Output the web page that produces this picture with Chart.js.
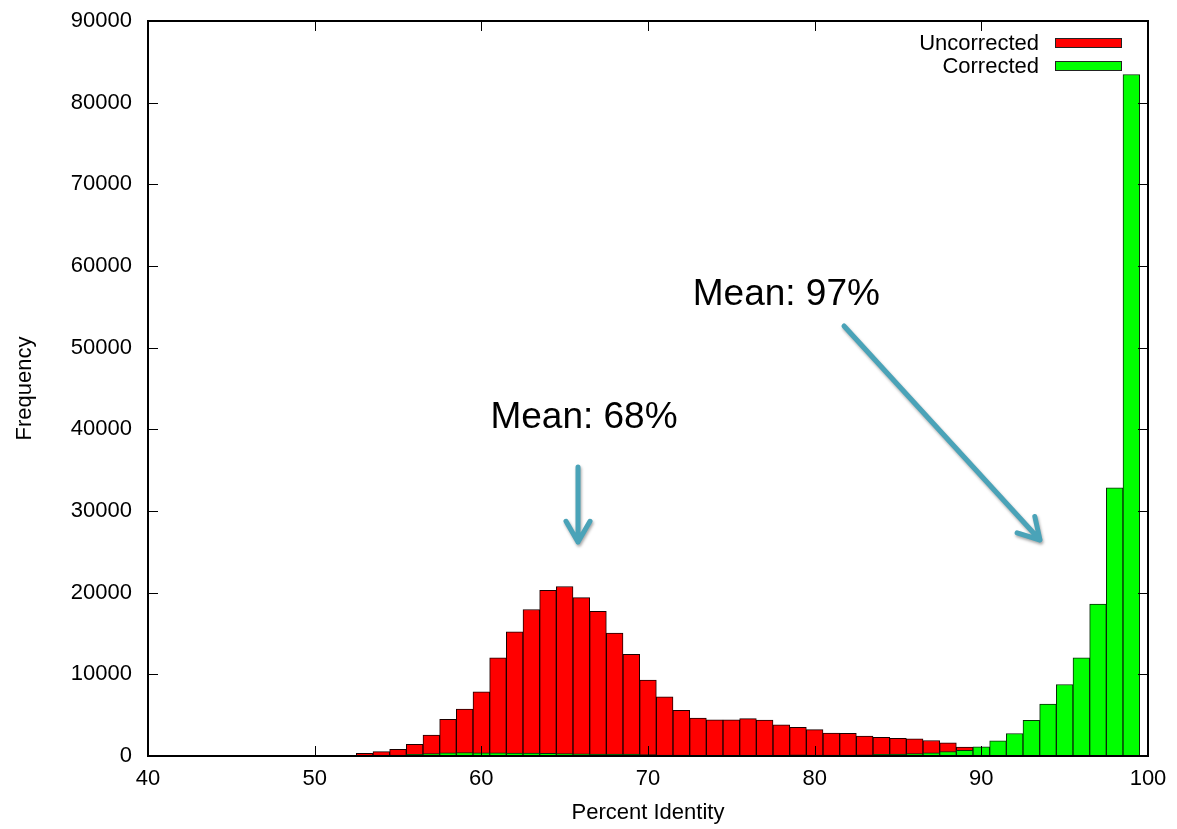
<!DOCTYPE html>
<html>
<head>
<meta charset="utf-8">
<title>Percent Identity histogram</title>
<script src="https://cdn.jsdelivr.net/npm/chart.js@4.4.1/dist/chart.umd.min.js"></script>
<style>
  body { margin: 0; background: #fff; }
  #wrap { width: 1177px; height: 829px; }
</style>
</head>
<body>
<div id="wrap"><canvas id="histChart" width="1177" height="829"></canvas></div>
<script>
// bin centres (percent identity)
const bins = [53, 54, 55, 56, 57, 58, 59, 60, 61, 62, 63, 64, 65, 66, 67, 68, 69, 70,
  71, 72, 73, 74, 75, 76, 77, 78, 79, 80, 81, 82, 83, 84, 85, 86, 87, 88, 89, 90,
  91, 92, 93, 94, 95, 96, 97, 98, 99];

// frequencies
const uncorrected = [330, 530, 815, 1430, 2570, 4480, 5750, 7870, 12030, 15210, 17940, 20300,
  20750, 19400, 17730, 15040, 12440, 9290, 7250, 5590, 4650, 4440, 4440, 4570, 4400, 3830,
  3510, 3220, 2810, 2770, 2450, 2280, 2160, 2100, 1900, 1600, 1100, 800, 600, 450, 350,
  280, 220, 170, 120, 80, 40];
const corrected = [60, 90, 120, 200, 285, 380, 430, 400, 400, 370, 360, 330, 290, 280, 220,
  240, 230, 170, 120, 100, 90, 90, 90, 90, 90, 90, 140, 110, 110, 120, 150, 200, 250, 290,
  400, 550, 700, 1110, 1850, 2750, 4370, 6350, 8750, 12030, 18600, 32850, 83450];

const seriesNames = ['Uncorrected', 'Corrected'];
const xTicks = [40, 50, 60, 70, 80, 90, 100];
const yTicks = [0, 10000, 20000, 30000, 40000, 50000, 60000, 70000, 80000, 90000];

// the two "Mean" call-outs
const meanLabels = ['Mean: 68%', 'Mean: 97%'];

const FONT = '"Liberation Sans", Arial, Helvetica, sans-serif';
const ARROW = '#4aa3b8';

// text and arrow anchors in data units
const callouts = [
  { text: meanLabels[0], tx: 66.16, ty: 41390, from: [65.8, 35390], to: [65.8, 26200] },
  { text: meanLabels[1], tx: 78.3, ty: 56450, from: [81.76, 52650], to: [93.52, 26450] }
];

function drawArrow(ctx, x1, y1, x2, y2) {
  const ang = Math.atan2(y2 - y1, x2 - x1);
  const head = 24, spread = Math.PI / 6;
  ctx.beginPath();
  ctx.moveTo(x1, y1);
  ctx.lineTo(x2, y2);
  ctx.moveTo(x2 - head * Math.cos(ang - spread), y2 - head * Math.sin(ang - spread));
  ctx.lineTo(x2, y2);
  ctx.lineTo(x2 - head * Math.cos(ang + spread), y2 - head * Math.sin(ang + spread));
  ctx.stroke();
}

// gnuplot style frame, inward ticks, legend and arrows
const framePlugin = {
  id: 'frame',
  afterDatasetsDraw(chart) {
    const { ctx, chartArea: a, scales: { x, y } } = chart;
    ctx.save();
    ctx.strokeStyle = '#000';
    ctx.lineWidth = 1;
    ctx.beginPath();
    x.ticks.forEach(t => {
      const px = Math.round(x.getPixelForValue(t.value)) + 0.5;
      ctx.moveTo(px, a.bottom); ctx.lineTo(px, a.bottom - 10);
      ctx.moveTo(px, a.top); ctx.lineTo(px, a.top + 10);
    });
    y.ticks.forEach(t => {
      const py = Math.round(y.getPixelForValue(t.value)) + 0.5;
      ctx.moveTo(a.left, py); ctx.lineTo(a.left + 10, py);
      ctx.moveTo(a.right, py); ctx.lineTo(a.right - 10, py);
    });
    ctx.stroke();
    ctx.lineWidth = 2;
    ctx.strokeRect(a.left, a.top, a.right - a.left, a.bottom - a.top);

    // legend, text right aligned with a swatch on the right
    ctx.font = '22px ' + FONT;
    ctx.textAlign = 'right';
    ctx.textBaseline = 'middle';
    chart.data.datasets.forEach((ds, i) => {
      const cy = a.top + 22 + i * 23;
      ctx.fillStyle = '#000';
      ctx.fillText(ds.label, a.right - 109, cy + 1);
      ctx.fillStyle = ds.backgroundColor;
      ctx.fillRect(a.right - 93, cy - 5, 67, 10);
      ctx.lineWidth = 1;
      ctx.strokeStyle = '#222';
      ctx.strokeRect(a.right - 92.5, cy - 4.5, 66, 9);
    });

    // mean call-outs
    ctx.font = '37px ' + FONT;
    ctx.textAlign = 'center';
    ctx.fillStyle = '#000';
    callouts.forEach(c => {
      ctx.fillText(c.text, x.getPixelForValue(c.tx), y.getPixelForValue(c.ty));
    });
    ctx.strokeStyle = ARROW;
    ctx.lineWidth = 5;
    ctx.lineCap = 'round';
    ctx.lineJoin = 'round';
    ctx.shadowColor = 'rgba(0,0,0,0.35)';
    ctx.shadowBlur = 3;
    ctx.shadowOffsetX = 1;
    ctx.shadowOffsetY = 2;
    callouts.forEach(c => {
      drawArrow(ctx,
        x.getPixelForValue(c.from[0]), y.getPixelForValue(c.from[1]),
        x.getPixelForValue(c.to[0]), y.getPixelForValue(c.to[1]));
    });
    ctx.restore();
  }
};

Chart.defaults.color = '#000';
Chart.defaults.font.family = FONT;
Chart.defaults.font.size = 22;

const ctx = document.getElementById('histChart').getContext('2d');
new Chart(ctx, {
  type: 'bar',
  data: {
    datasets: [{
      label: seriesNames[0],
      data: bins.map((b, i) => ({ x: b, y: uncorrected[i] })),
      backgroundColor: '#ff0000',
      borderColor: '#1a0000',
      borderWidth: 1,
      order: 2
    }, {
      label: seriesNames[1],
      data: bins.map((b, i) => ({ x: b, y: corrected[i] })),
      backgroundColor: '#00ff00',
      borderColor: '#0a2a0a',
      borderWidth: 1,
      order: 1
    }]
  },
  options: {
    responsive: false,
    animation: false,
    grouped: false,
    barPercentage: 1,
    categoryPercentage: 1,
    layout: { padding: { top: 21, right: 29, left: 0, bottom: 0 } },
    plugins: {
      legend: { display: false },
      tooltip: { enabled: false }
    },
    scales: {
      x: {
        type: 'linear',
        offset: false,
        min: 40,
        max: 100,
        afterBuildTicks: s => { s.ticks = xTicks.map(v => ({ value: v })); },
        afterFit: s => { s.height = 73; s.paddingLeft = 0; s.paddingRight = 0; },
        grid: { display: false, drawTicks: false },
        border: { display: false },
        ticks: { padding: 10, font: { size: 22 }, callback: v => String(v) },
        title: { display: true, text: 'Percent Identity', font: { size: 22 }, padding: { top: 0, bottom: 3 } }
      },
      y: {
        min: 0,
        max: 90000,
        afterBuildTicks: s => { s.ticks = yTicks.map(v => ({ value: v })); },
        afterFit: s => { s.width = 148; s.paddingTop = 0; s.paddingBottom = 0; },
        grid: { display: false, drawTicks: false },
        border: { display: false },
        ticks: { padding: 16, font: { size: 22 }, callback: v => String(v) },
        title: { display: true, text: 'Frequency', font: { size: 22 }, padding: { top: 12, bottom: 0 } }
      }
    }
  },
  plugins: [framePlugin]
});
</script>
</body>
</html>
